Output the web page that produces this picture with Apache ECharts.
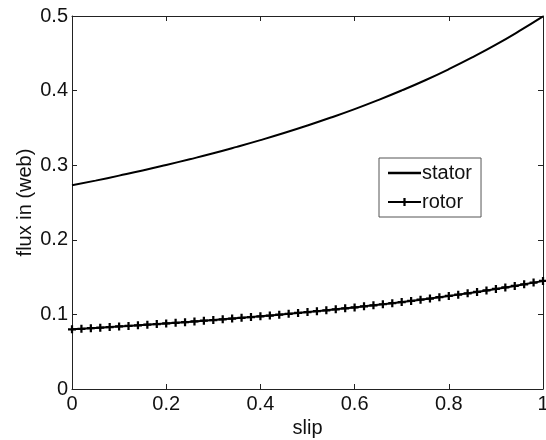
<!DOCTYPE html>
<html>
<head>
<meta charset="utf-8">
<script src="https://cdn.jsdelivr.net/npm/echarts@6/dist/echarts.min.js"></script>
<style>
html,body{margin:0;padding:0;background:#fff;}
#chart{width:546px;height:440px;}
</style>
</head>
<body>
<div id="chart"></div>
<script>
var xTicks = [0, 0.2, 0.4, 0.6, 0.8, 1];
var yTicks = [0, 0.1, 0.2, 0.3, 0.4, 0.5];

var statorSlip = [0, 0.05, 0.1, 0.15, 0.2, 0.25, 0.3, 0.35, 0.4, 0.45, 0.5,
  0.55, 0.6, 0.65, 0.7, 0.75, 0.8, 0.85, 0.9, 0.95, 1.0];
var statorFlux = [0.273, 0.2793, 0.2860, 0.2929, 0.3003, 0.3080, 0.3160, 0.3246, 0.3336, 0.3431, 0.3532,
  0.3639, 0.3752, 0.3873, 0.4002, 0.4139, 0.4287, 0.4446, 0.4616, 0.4800, 0.4995];

var rotorSlip = [0, 0.02, 0.04, 0.06, 0.08, 0.10, 0.12, 0.14, 0.16, 0.18, 0.20,
  0.22, 0.24, 0.26, 0.28, 0.30, 0.32, 0.34, 0.36, 0.38, 0.40,
  0.42, 0.44, 0.46, 0.48, 0.50, 0.52, 0.54, 0.56, 0.58, 0.60,
  0.62, 0.64, 0.66, 0.68, 0.70, 0.72, 0.74, 0.76, 0.78, 0.80,
  0.82, 0.84, 0.86, 0.88, 0.90, 0.92, 0.94, 0.96, 0.98, 1.00];
var rotorFlux = [0.0800, 0.0807, 0.0815, 0.0822, 0.0830, 0.0838, 0.0846, 0.0854, 0.0862, 0.0870, 0.0879,
  0.0888, 0.0896, 0.0906, 0.0915, 0.0924, 0.0934, 0.0944, 0.0954, 0.0964, 0.0975,
  0.0985, 0.0996, 0.1008, 0.1019, 0.1031, 0.1043, 0.1055, 0.1068, 0.1081, 0.1094,
  0.1108, 0.1122, 0.1136, 0.1151, 0.1166, 0.1181, 0.1197, 0.1213, 0.1230, 0.1247,
  0.1265, 0.1283, 0.1301, 0.1321, 0.1341, 0.1361, 0.1382, 0.1404, 0.1426, 0.1449];

function pairs(xs, ys) { return xs.map(function (x, i) { return [x, ys[i]]; }); }

var FONT = 'Liberation Sans, Arial, Helvetica, sans-serif';
var plusPath = 'path://M3.6,0H6.4V3.6H10V6.4H6.4V10H3.6V6.4H0V3.6H3.6Z';

var chart = echarts.init(document.getElementById('chart'), null, {renderer: 'canvas'});

var axisLine = {show: true, onZero: false, lineStyle: {color: '#222', width: 1}};
var axisTick = {show: true, inside: true, length: 5, lineStyle: {color: '#222', width: 1}};

chart.setOption({
  animation: false,
  backgroundColor: '#fff',
  grid: {left: 72, top: 16, right: 3, bottom: 51, containLabel: false, outerBoundsMode: 'none'},
  xAxis: [{
    type: 'value', position: 'bottom', min: xTicks[0], max: xTicks[xTicks.length - 1], interval: 0.2,
    name: 'slip', nameLocation: 'middle', nameGap: 29, nameMoveOverlap: false,
    nameTextStyle: {fontFamily: FONT, fontSize: 20, color: '#111'},
    axisLine: axisLine, axisTick: axisTick, splitLine: {show: false},
    axisLabel: {fontFamily: FONT, fontSize: 20, color: '#111', margin: 5}
  }, {
    type: 'value', position: 'top', min: 0, max: 1, interval: 0.2,
    axisLine: axisLine, axisTick: axisTick, splitLine: {show: false},
    axisLabel: {show: false}
  }],
  yAxis: [{
    type: 'value', position: 'left', min: yTicks[0], max: yTicks[yTicks.length - 1], interval: 0.1,
    name: 'flux in (web)', nameLocation: 'middle', nameGap: 37, nameMoveOverlap: false,
    nameTextStyle: {fontFamily: FONT, fontSize: 20, color: '#111'},
    axisLine: axisLine, axisTick: axisTick, splitLine: {show: false},
    axisLabel: {fontFamily: FONT, fontSize: 20, color: '#111', margin: 4}
  }, {
    type: 'value', position: 'right', min: 0, max: 0.5, interval: 0.1,
    axisLine: axisLine, axisTick: axisTick, splitLine: {show: false},
    axisLabel: {show: false}
  }],
  legend: {
    left: 379, top: 158,
    orient: 'vertical',
    backgroundColor: '#fff',
    borderColor: '#555', borderWidth: 1,
    padding: [5, 9, 5, 8],
    itemGap: 9,
    itemWidth: 33, itemHeight: 10,
    textStyle: {fontFamily: FONT, fontSize: 20, color: '#111', padding: [0, 0, 0, -4]},
    data: [
      {name: 'stator', icon: 'path://M0,3.8H33V6.2H0Z'},
      {name: 'rotor'}
    ]
  },
  series: [{
    name: 'stator', type: 'line', xAxisIndex: 0, yAxisIndex: 0,
    data: pairs(statorSlip, statorFlux), smooth: true, showSymbol: false, symbol: 'none',
    lineStyle: {color: '#000', width: 2}, itemStyle: {color: '#000'}
  }, {
    name: 'rotor', type: 'line', xAxisIndex: 0, yAxisIndex: 0,
    data: pairs(rotorSlip, rotorFlux), symbol: plusPath, symbolSize: 8, showSymbol: true,
    lineStyle: {color: '#000', width: 2}, itemStyle: {color: '#000'}
  }]
});
</script>
</body>
</html>
